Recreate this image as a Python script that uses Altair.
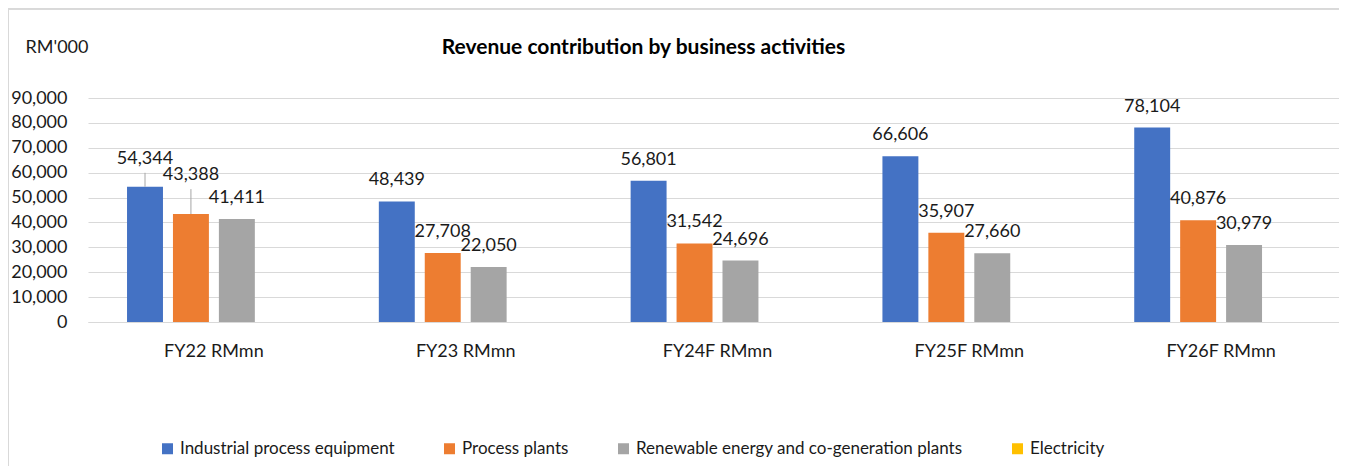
import altair as alt
import pandas as pd

categories = ["FY22 RMmn", "FY23 RMmn", "FY24F RMmn", "FY25F RMmn", "FY26F RMmn"]
series = ["Industrial process equipment", "Process plants",
          "Renewable energy and co-generation plants", "Electricity"]
industrial = [54344, 48439, 56801, 66606, 78104]
process_plants = [43388, 27708, 31542, 35907, 40876]
renewable = [41411, 22050, 24696, 27660, 30979]
electricity = [None, None, None, None, None]
colors = ["#4472C4", "#ED7D31", "#A5A5A5", "#FFC000"]

# manual label placement (data units) for the moved FY22 labels, with leader lines
label_lift = {
    ("FY22 RMmn", "Industrial process equipment"): (2600, 5600),
    ("FY22 RMmn", "Process plants"): (7400, 10000),
}

rows = []
for s, vals in zip(series, [industrial, process_plants, renewable, electricity]):
    for c, v in zip(categories, vals):
        lift, leader = label_lift.get((c, s), (0, 0))
        rows.append({"category": c, "series": s, "value": v,
                     "label_y": None if v is None else v + lift,
                     "leader_y": None if v is None else v + leader,
                     "has_leader": leader > 0})
df = pd.DataFrame(rows)

FONT = "Lato"
TXT = "#1a1a1a"
PLOT_W = 1251
PLOT_H = 224

x_enc = alt.X("category:N", sort=categories,
              scale=alt.Scale(domain=categories, paddingInner=0.31, paddingOuter=0.155,
                              range=[0, 1259]),
              axis=alt.Axis(title=None, labelAngle=0, domain=True, domainColor="#d9d9d9",
                            ticks=False, labelPadding=20, labelFontSize=18, labelFont=FONT,
                            labelColor=TXT))
xo_enc = alt.XOffset("series:N", sort=series,
                     scale=alt.Scale(domain=series, paddingInner=0.2174, paddingOuter=0))
y_scale = alt.Scale(domain=[0, 90000], nice=False)
y_axis = alt.Axis(values=list(range(0, 90001, 10000)), format=",.0f", grid=True,
                  gridColor="#d9d9d9", domain=False, ticks=False, labelPadding=21,
                  labelFontSize=18, labelFont=FONT, labelColor=TXT,
                  title="RM'000", titleAngle=0, titleX=-63, titleY=-51,
                  titleAlign="left", titleBaseline="middle", titleFontWeight="normal",
                  titleFontSize=18, titleFont=FONT, titleColor=TXT)

base = alt.Chart(df)

bars = base.transform_filter("isValid(datum.value)").mark_bar().encode(
    x=x_enc,
    xOffset=xo_enc,
    y=alt.Y("value:Q", scale=y_scale, axis=y_axis),
    color=alt.Color("series:N", sort=series, scale=alt.Scale(domain=series, range=colors),
                    legend=alt.Legend(title=None, orient="none", direction="horizontal",
                                      legendX=71, legendY=342, columnPadding=46,
                                      symbolType="square", symbolSize=121,
                                      symbolStrokeWidth=0, labelFontSize=17, labelFont=FONT,
                                      labelColor=TXT, labelOffset=4, labelLimit=0)),
)

labels = base.transform_filter("isValid(datum.value)").mark_text(
    baseline="alphabetic", dy=-16, fontSize=18, font=FONT, color=TXT
).encode(
    x=x_enc,
    xOffset=xo_enc,
    y=alt.Y("label_y:Q", scale=y_scale, axis=y_axis),
    text=alt.Text("value:Q", format=","),
)

leaders = base.transform_filter("datum.has_leader").mark_rule(
    color="#a6a6a6", strokeWidth=1
).encode(
    x=x_enc,
    xOffset=xo_enc,
    y=alt.Y("value:Q", scale=y_scale, axis=y_axis),
    y2="leader_y:Q",
)

border_top = alt.Chart(df).mark_rule(color="#d9d9d9").encode(
    x=alt.value(-80), x2=alt.value(1300), y=alt.value(-89))
border_left = alt.Chart(df).mark_rule(color="#d9d9d9").encode(
    x=alt.value(-79.5), y=alt.value(-89), y2=alt.value(400))

chart = alt.layer(border_top, border_left, bars, leaders, labels).properties(
    width=PLOT_W, height=PLOT_H,
    background="white",
    title=alt.TitleParams("Revenue contribution by business activities", fontSize=21,
                          font=FONT, fontWeight="bold", anchor="middle", frame="group",
                          dx=-70, offset=0, dy=49, color="#000"),
    autosize=alt.AutoSizeParams(type="none"),
    padding={"left": 80, "top": 90, "right": 0, "bottom": 144},
).configure_view(stroke=None)

chart.save("out.html", embed_options={"renderer": "svg", "actions": False})
